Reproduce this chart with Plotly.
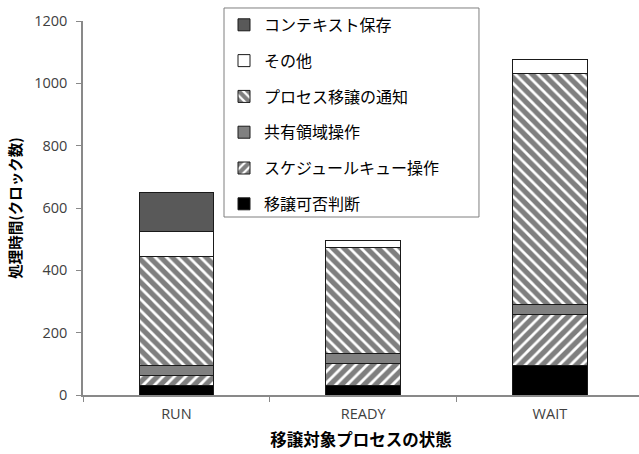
import plotly.graph_objects as go

categories = ["RUN", "READY", "WAIT"]
series_names = ["移譲可否判断", "スケジュールキュー操作", "共有領域操作",
                "プロセス移譲の通知", "その他", "コンテキスト保存"]
judge = [32, 31, 94]
schedule = [32, 71, 165]
shared = [32, 32, 32]
notice = [350, 340, 741]
other = [78, 21, 46]
context = [126, 0, 0]
y_ticks = [0, 200, 400, 600, 800, 1000, 1200]

values = [judge, schedule, shared, notice, other, context]
styles = [
    dict(color="#000000"),
    dict(color="#ffffff", pattern=dict(shape="/", fgcolor="#000000", bgcolor="#ffffff", size=8, solidity=0.65)),
    dict(color="#808080"),
    dict(color="#ffffff", pattern=dict(shape="\\", fgcolor="#000000", bgcolor="#ffffff", size=8, solidity=0.65)),
    dict(color="#ffffff"),
    dict(color="#595959"),
]

fig = go.Figure()
n = len(series_names)
for i, (name, vals, st) in enumerate(zip(series_names, values, styles)):
    fig.add_trace(go.Bar(
        x=categories, y=vals, name=name, legendgroup=str(i), legendrank=100 * (n - i),
        marker=dict(line=dict(color="#1a1a1a", width=1), **st),
    ))

# legend frame
fig.add_shape(type="rect", xref="paper", yref="paper",
              x0=0.2536, x1=0.7122, y0=0.4759, y1=1.0348,
              line=dict(color="#7f7f7f", width=1), fillcolor="white", layer="below")

fig.update_layout(
    barmode="stack",
    bargap=0.6,
    width=639, height=454,
    margin=dict(l=83, r=0, t=21, b=59),
    paper_bgcolor="white", plot_bgcolor="white",
    font=dict(family="Noto Sans CJK JP, Open Sans, sans-serif", color="#262626"),
    showlegend=True,
    legend=dict(
        x=0.2536, y=1.035, xanchor="left", yanchor="top",
        traceorder="grouped", tracegroupgap=12,
        borderwidth=0, bgcolor="rgba(0,0,0,0)",
        font=dict(size=16, color="#000000"),
    ),
    xaxis=dict(
        range=[-0.5, 2.477], showline=True, linecolor="#898989", linewidth=1.5,
        ticks="outside", tickson="boundaries", ticklen=5, tickcolor="#898989",
        tickfont=dict(family="Open Sans, sans-serif", size=14.5, color="#404040"),
        ticklabelstandoff=5,
        title=dict(text="<b>移譲対象プロセスの状態</b>", font=dict(size=16.5, color="#000000"), standoff=12),
    ),
    yaxis=dict(
        range=[0, 1200], tickvals=y_ticks, showline=True, linecolor="#898989", linewidth=1.5,
        showgrid=False, zeroline=False,
        ticks="outside", ticklen=5, tickcolor="#898989",
        tickfont=dict(family="Open Sans, sans-serif", size=14.5, color="#404040"),
        ticklabelstandoff=6,
        title=dict(text="<b>処理時間(クロック数)</b>", font=dict(size=14.5, color="#000000"), standoff=9),
    ),
)

fig.write_html("out.html")
